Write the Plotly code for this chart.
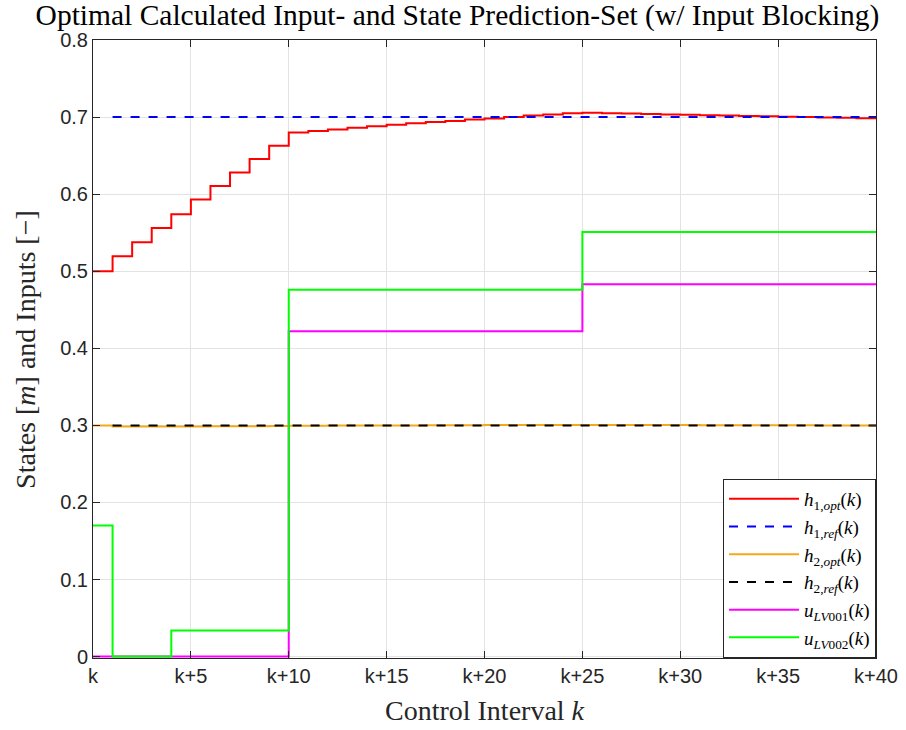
import plotly.graph_objects as go

k_steps = list(range(0, 41))
h1_opt = [0.500, 0.5195, 0.5376, 0.556, 0.574, 0.593, 0.6106, 0.628, 0.6455, 0.6628,
          0.680, 0.682, 0.684, 0.686, 0.688, 0.690, 0.692, 0.6935, 0.695, 0.697,
          0.698, 0.700, 0.702, 0.7035, 0.705, 0.7055, 0.705, 0.7045, 0.704, 0.7035,
          0.703, 0.7025, 0.702, 0.7015, 0.701, 0.7005, 0.700, 0.6995, 0.699, 0.6985]
h2_opt = [0.300, 0.2985, 0.2985, 0.2985, 0.2986, 0.2987, 0.2988, 0.2989, 0.299, 0.2992,
          0.2994, 0.2996, 0.2997, 0.2998, 0.2999, 0.300, 0.300, 0.3001, 0.3002, 0.3003,
          0.3004, 0.3005, 0.3006, 0.3006, 0.3006, 0.3006, 0.3006, 0.3005, 0.3005, 0.3004,
          0.3004, 0.3003, 0.3003, 0.3002, 0.3002, 0.3001, 0.3001, 0.300, 0.300, 0.300]
ref_x = [1, 40]
h1_ref = [0.7, 0.7]
h2_ref = [0.3, 0.3]
u1_x = [0, 10, 25, 40]
u1 = [0.0, 0.422, 0.483, 0.483]
u2_x = [0, 1, 4, 10, 25, 40]
u2 = [0.17, 0.0, 0.034, 0.476, 0.551, 0.551]

x_tickvals = [0, 5, 10, 15, 20, 25, 30, 35, 40]
x_ticktext = ["k", "k+5", "k+10", "k+15", "k+20", "k+25", "k+30", "k+35", "k+40"]
y_tickvals = [0, 0.1, 0.2, 0.3, 0.4, 0.5, 0.6, 0.7, 0.8]
y_ticktext = ["0", "0.1", "0.2", "0.3", "0.4", "0.5", "0.6", "0.7", "0.8"]

SERIF = "Liberation Serif, Times New Roman, serif"

fig = go.Figure()
fig.add_trace(go.Scatter(x=k_steps, y=h1_opt + [h1_opt[-1]], mode="lines", line_shape="hv",
                         line=dict(color="#ff0000", width=2),
                         name="<i>h</i><sub>1,<i>opt</i></sub>(<i>k</i>)"))
fig.add_trace(go.Scatter(x=ref_x, y=h1_ref, mode="lines",
                         line=dict(color="#0000ff", width=2, dash="dash"),
                         name="<i>h</i><sub>1,<i>ref</i></sub>(<i>k</i>)"))
fig.add_trace(go.Scatter(x=k_steps, y=h2_opt + [h2_opt[-1]], mode="lines", line_shape="hv",
                         line=dict(color="#f5a81c", width=2),
                         name="<i>h</i><sub>2,<i>opt</i></sub>(<i>k</i>)"))
fig.add_trace(go.Scatter(x=ref_x, y=h2_ref, mode="lines",
                         line=dict(color="#000000", width=2, dash="dash"),
                         name="<i>h</i><sub>2,<i>ref</i></sub>(<i>k</i>)"))
fig.add_trace(go.Scatter(x=u1_x, y=u1, mode="lines", line_shape="hv",
                         line=dict(color="#ff00ff", width=2),
                         name="<i>u</i><sub><i>LV</i>001</sub>(<i>k</i>)"))
fig.add_trace(go.Scatter(x=u2_x, y=u2, mode="lines", line_shape="hv",
                         line=dict(color="#00ff00", width=2),
                         name="<i>u</i><sub><i>LV</i>002</sub>(<i>k</i>)"))

axis_common = dict(showline=True, linecolor="#262626", linewidth=1, mirror="ticks",
                   ticks="inside", ticklen=7, tickcolor="#262626",
                   showgrid=True, gridcolor="#e3e3e3", gridwidth=1, zeroline=False,
                   automargin=False,
                   tickfont=dict(family="Liberation Sans, Arial", size=20, color="#262626"))

fig.update_layout(
    width=906, height=730,
    margin=dict(l=93, r=30, t=40, b=72),
    paper_bgcolor="white", plot_bgcolor="white",
    title=dict(text="Optimal Calculated Input- and State Prediction-Set (w/ Input Blocking)",
               x=0.505, xanchor="center", xref="container", y=0.98, yanchor="middle",
               font=dict(family=SERIF, size=29.5, color="black")),
    xaxis=dict(range=[0, 40], tickvals=x_tickvals, ticktext=x_ticktext,
               title=dict(text="Control Interval <i>k</i>", standoff=14,
                          font=dict(family=SERIF, size=28, color="#262626")),
               **axis_common),
    yaxis=dict(range=[-0.0018, 0.8], tickvals=y_tickvals, ticktext=y_ticktext,
               **axis_common),
    annotations=[dict(text="States [<i>m</i>] and Inputs [−]", textangle=-90,
                      xref="paper", yref="paper", x=-0.087, y=0.5,
                      xanchor="center", yanchor="middle", showarrow=False,
                      font=dict(family=SERIF, size=28, color="#262626"))],
    legend=dict(x=1.0, y=0.0, xanchor="right", yanchor="bottom",
                bgcolor="white", bordercolor="#262626", borderwidth=1,
                font=dict(family=SERIF, size=19, color="black"),
                tracegroupgap=0, itemwidth=70),
    showlegend=True,
)

fig.write_html("out.html")
